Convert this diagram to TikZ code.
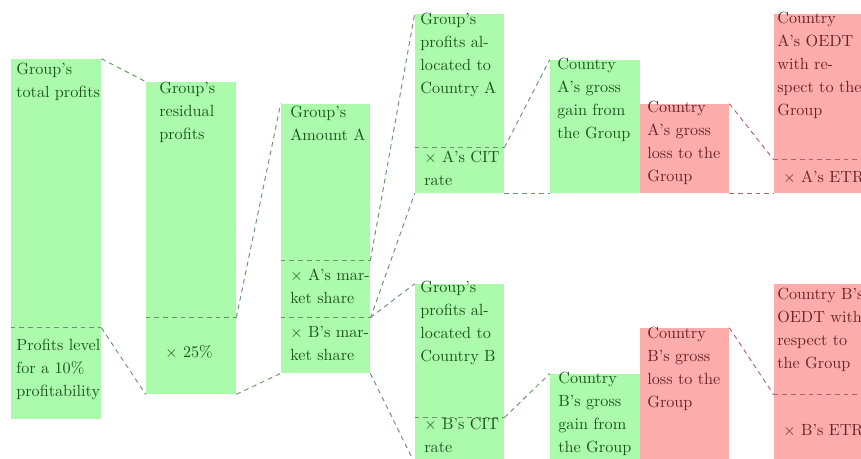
\documentclass[tikz,border=0pt]{standalone}
\usetikzlibrary{fit}
\definecolor{gfill}{RGB}{172,250,172}
\definecolor{rfill}{RGB}{253,172,172}
\definecolor{gtext}{RGB}{28,85,28}
\definecolor{rtext}{RGB}{105,35,40}
\definecolor{gline}{RGB}{105,150,105}
\definecolor{rline}{RGB}{170,100,112}
\tikzset{
  gsec/.style={fill=gfill,draw=none,inner sep=0pt},
  rsec/.style={fill=rfill,draw=none,inner sep=0pt},
  gtxt/.style={inner sep=0pt,anchor=north west,align=left,text=gtext,font=\fontsize{10.2}{14.5}\selectfont,execute at begin node=\strut},
  rtxt/.style={gtxt,text=rtext},
  gconn/.style={draw=gline,dash pattern=on 3pt off 2.5pt,line width=0.6pt},
  rconn/.style={draw=rline,dash pattern=on 3pt off 2.5pt,line width=0.6pt},
  gdiv/.style={gconn},
  rdiv/.style={rconn}
}
\begin{document}
\begin{tikzpicture}[x=0.63pt,y=-0.63pt]
\useasboundingbox (0,0) rectangle (861,459);
\clip (0,0) rectangle (861,459);
% sections
\node[gsec,fit={(11,59)(101,328)}] (b1t) {};
\node[gsec,fit={(11,328)(101,419)}] (b1b) {};
\node[gsec,fit={(146,82)(236,318)}] (b2t) {};
\node[gsec,fit={(146,318)(236,394)}] (b2b) {};
\node[gsec,fit={(281,104)(370,261)}] (b3t) {};
\node[gsec,fit={(281,261)(370,318)}] (b3m) {};
\node[gsec,fit={(281,318)(370,373)}] (b3b) {};
\node[gsec,fit={(415,14)(504,148)}] (b4t) {};
\node[gsec,fit={(415,148)(504,193)}] (b4b) {};
\node[gsec,fit={(415,284)(504,418)}] (b5t) {};
\node[gsec,fit={(415,418)(504,463)}] (b5b) {};
\node[gsec,fit={(550,60)(640,193)}] (b6) {};
\node[rsec,fit={(640,104)(729,193)}] (b7) {};
\node[rsec,fit={(774,14)(863,160)}] (b8t) {};
\node[rsec,fit={(774,160)(863,193)}] (b8b) {};
\node[gsec,fit={(550,374)(640,463)}] (b9) {};
\node[rsec,fit={(640,328)(729,463)}] (b10) {};
\node[rsec,fit={(774,284)(863,395)}] (b11t) {};
\node[rsec,fit={(774,395)(863,463)}] (b11b) {};
% dividers
\draw[gdiv] (b1b.north west) -- (b1b.north east);
\draw[gdiv] (b2b.north west) -- (b2b.north east);
\draw[gdiv] (b3m.north west) -- (b3m.north east);
\draw[gdiv] (b3b.north west) -- (b3b.north east);
\draw[gdiv] (b4b.north west) -- (b4b.north east);
\draw[gdiv] (b5b.north west) -- (b5b.north east);
\draw[rdiv] (b8b.north west) -- (b8b.north east);
\draw[rdiv] (b11b.north west) -- (b11b.north east);
% connectors
\draw[gconn] (b1t.north east) -- (b2t.north west);
\draw[gconn] (b1b.north east) -- (b2b.south west);
\draw[gconn] (b2b.north east) -- (b3t.north west);
\draw[gconn] (b2b.south east) -- (b3b.south west);
\draw[gconn] (b3m.north east) -- (b4t.north west);
\draw[gconn] (b3m.south east) -- (b4b.south west);
\draw[gconn] (b3b.north east) -- (b5t.north west);
\draw[gconn] (b3b.south east) -- (b5b.south west);
\draw[gconn] (b4b.north east) -- (b6.north west);
\draw[gconn] (b4b.south east) -- (b6.south west);
\draw[gconn] (b5b.north east) -- (b9.north west);
\draw[gconn] (b5b.south east) -- (b9.south west);
\draw[rconn] (b7.north east) -- (b8b.north west);
\draw[rconn] (b7.south east) -- (b8b.south west);
\draw[rconn] (b10.north east) -- (b11b.north west);
\draw[rconn] (b10.south east) -- (b11b.south west);
% texts
\node[gtxt] (t1t) at (16,63) {Group's\\total profits};
\node[gtxt] (t1b) at (16,339) {Profits level\\for a 10\%\\profitability};
\node[gtxt] (t2t) at (159,82) {Group's\\residual\\profits};
\node[gtxt] (t2b) at (165,341) {$\times$ 25\%};
\node[gtxt] (t3t) at (290,106) {Group's\\Amount A};
\node[gtxt] (t3m) at (290,269) {$\times$ A's mar-\\ket share};
\node[gtxt] (t3b) at (290,326) {$\times$ B's mar-\\ket share};
\node[gtxt] (t4t) at (420,13) {Group's\\profits al-\\located to\\Country A};
\node[gtxt] (t4b) at (424,151) {$\times$ A's CIT\\rate};
\node[gtxt] (t5t) at (420,281) {Group's\\profits al-\\located to\\Country B};
\node[gtxt] (t5b) at (424,418) {$\times$ B's CIT\\rate};
\node[gtxt] (t6) at (557,58) {Country\\A's gross\\gain from\\the Group};
\node[rtxt] (t7) at (647,101) {Country\\A's gross\\loss to the\\Group};
\node[rtxt] (t8t) at (777,12) {Country\\A's OEDT\\with re-\\spect to the\\Group};
\node[rtxt] (t8b) at (783,166) {$\times$ A's ETR};
\node[gtxt] (t9) at (558,372) {Country\\B's gross\\gain from\\the Group};
\node[rtxt] (t10) at (647,327) {Country\\B's gross\\loss to the\\Group};
\node[rtxt] (t11t) at (777,288) {Country B's\\OEDT with\\respect to\\the Group};
\node[rtxt] (t11b) at (783,419) {$\times$ B's ETR};
\end{tikzpicture}
\end{document}
